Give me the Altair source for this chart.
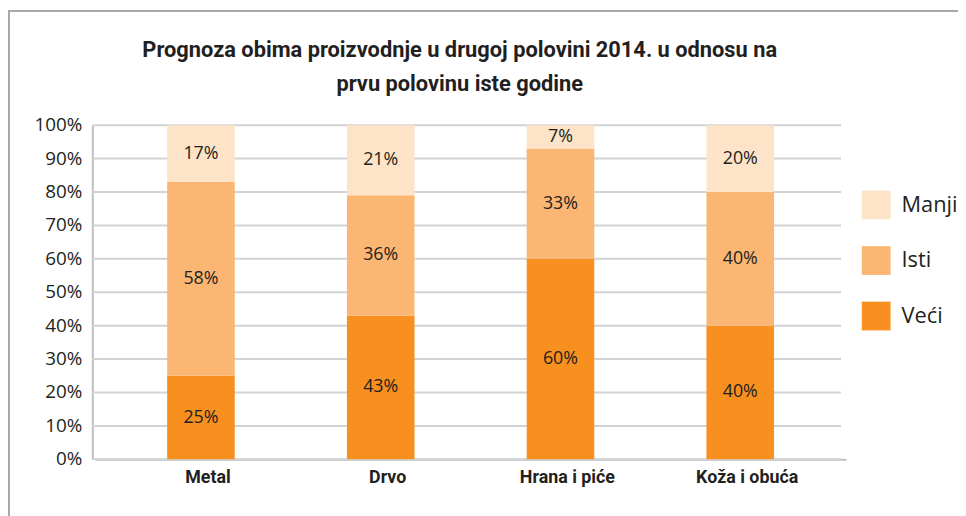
import altair as alt
import pandas as pd

categories = ["Metal", "Drvo", "Hrana i piće", "Koža i obuća"]
series = ["Veći", "Isti", "Manji"]
veci = [25, 43, 60, 40]
isti = [58, 36, 33, 40]
manji = [17, 21, 7, 20]
y_ticks = [0, 10, 20, 30, 40, 50, 60, 70, 80, 90, 100]
colors = ["#FDE3C7", "#FBB674", "#F7901E"]  # Manji, Isti, Veći
title_lines = ["Prognoza obima proizvodnje u drugoj polovini 2014.  u odnosu na",
               "prvu polovinu iste godine"]

rows = []
for i, c in enumerate(categories):
    for k, (s, vals) in enumerate(zip(series, [veci, isti, manji])):
        rows.append({"cat": c, "series": s, "value": vals[i], "ord": k})
df = pd.DataFrame(rows)
ticks_df = pd.DataFrame({"t": y_ticks, "lab": [f"{t}%" for t in y_ticks]})

BODY = "Open Sans"
COND = "Roboto"

x_scale = alt.Scale(domain=categories, range=[3, 760], paddingInner=0.624, paddingOuter=0.4)
x_axis = alt.Axis(labelAngle=0, labelFont=COND, labelFontWeight="bold",
                  labelFontSize=18, labelColor="#231F20", labelPadding=9,
                  labelOffset=7, grid=False,
                  ticks=False, domainColor="#BCBEC0", domainWidth=2)
y_scale = alt.Scale(domain=[0, 100], nice=False)
y_axis = alt.Axis(labels=False, ticks=False, grid=False,
                  domainColor="#BCBEC0", domainWidth=2)

# gridlines at every tick value (drawn through the y scale)
grid = alt.Chart(ticks_df).mark_rule(color="#D1D3D4", strokeWidth=2).encode(
    y=alt.Y("t:Q", title=None, scale=y_scale, axis=y_axis),
    x=alt.value(0), x2=alt.value(755),
)
# y tick labels
ylabels = alt.Chart(ticks_df).mark_text(
    font=BODY, fontSize=19, color="#231F20", align="right", baseline="middle"
).encode(
    y=alt.Y("t:Q", title=None, scale=y_scale, axis=y_axis),
    x=alt.value(-10),
    text="lab:N",
)

base = alt.Chart(df)

bars = base.mark_bar().encode(
    x=alt.X("cat:N", sort=categories, title=None, scale=x_scale, axis=x_axis),
    y=alt.Y("value:Q", stack="zero", title=None, scale=y_scale, axis=y_axis),
    color=alt.Color("series:N", scale=alt.Scale(domain=["Manji", "Isti", "Veći"], range=colors),
                    title=None,
                    legend=alt.Legend(orient="none", legendX=776, legendY=66,
                                      symbolType="square", symbolSize=841,
                                      symbolStrokeWidth=0, symbolOpacity=1,
                                      labelFont=BODY, labelFontSize=22,
                                      labelColor="#231F20", labelOffset=11,
                                      rowPadding=27)),
    order=alt.Order("ord:Q"),
)

labels = base.transform_stack(
    stack="value", groupby=["cat"], as_=["v0", "v1"],
    sort=[alt.SortField("ord", order="ascending")]
).transform_calculate(
    mid="(datum.v0 + datum.v1) / 2",
    lab="datum.value + '%'"
).mark_text(font=BODY, fontSize=18, color="#231F20").encode(
    x=alt.X("cat:N", sort=categories, title=None, scale=x_scale, axis=x_axis),
    y=alt.Y("mid:Q", title=None, scale=y_scale, axis=y_axis),
    text="lab:N",
)

one = alt.Chart(pd.DataFrame({"a": [0]}))
frame_left = one.mark_rule(color="#A7A9AC", strokeWidth=2).encode(
    x=alt.value(-84), y=alt.value(-115), y2=alt.value(400))
frame_top = one.mark_rule(color="#A7A9AC", strokeWidth=2).encode(
    x=alt.value(-85), x2=alt.value(880), y=alt.value(-115))

chart = alt.layer(grid, ylabels, bars, labels, frame_left, frame_top).properties(
    width=755, height=337,
    autosize=alt.AutoSizeParams(type="none"),
    padding={"left": 85, "top": 116, "right": 118, "bottom": 55},
    title=alt.TitleParams(text=title_lines, font=COND, fontWeight="bold", fontSize=22,
                          color="#231F20", anchor="middle", frame="group", dx=-7,
                          offset=-87, lineHeight=35),
).configure_view(stroke=None)

chart.save("out.html", embed_options={"renderer": "svg", "actions": False})
